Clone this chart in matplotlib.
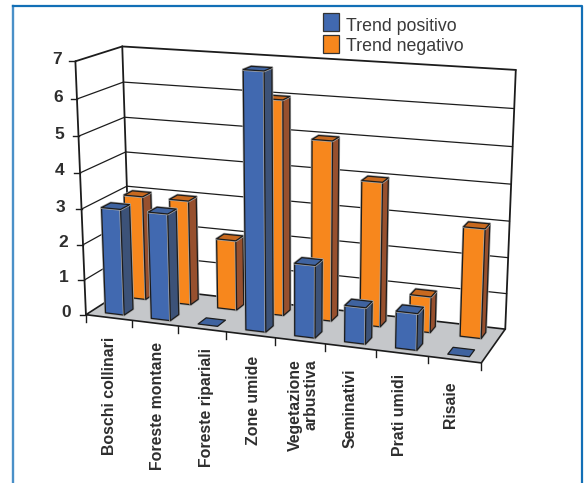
import matplotlib
matplotlib.use('Agg')
import matplotlib.pyplot as plt
import matplotlib.patheffects as pe
from matplotlib.patches import Polygon
import numpy as np

categories = ['Boschi collinari', 'Foreste montane', 'Foreste ripariali', 'Zone umide',
              'Vegetazione\narbustiva', 'Seminativi', 'Prati umidi', 'Risaie']
trend_positivo = [3, 3, 0, 7, 2, 1, 1, 0]
trend_negativo = [3, 3, 2, 6, 5, 4, 1, 3]
y_ticks = [0, 1, 2, 3, 4, 5, 6, 7]

# pixel positions of the labels drawn around the box
cat_label_x = [109, 157.5, 206, 254, 303, 350.5, 400, 450]
cat_label_top = [337, 342, 348, 356, 359, 368, 374, 382]
val_label_x = [66, 64, 63, 60, 60, 59, 58, 57]

BLUE = ('#4169b0', '#3c5278', '#3f63a0')
ORANGE = ('#f7871d', '#97502e', '#c8691f')
FLOOR = '#c5c7ca'
DARK = '#1c1c1c'
TEXT = '#2e2e2e'

W, H = 587, 483
n_cat = len(categories)

# corners of the box: (u across, d into the page, z value) -> pixel
corners = [((0, 0, 0), (86, 313)), ((0, 0, 7), (75, 62)), ((0, 1, 7), (122.7, 45.7)),
           ((0, 1, 0), (130, 288)), ((1, 1, 7), (515.7, 70)), ((1, 1, 0), (505, 328)),
           ((1, 0, 0), (481.7, 364))]


def fit_camera(pairs):
    rows = []
    for (u, d, z), (px, py) in pairs:
        p = [u, d, z, 1]
        rows.append(p + [0, 0, 0, 0] + [-px * c for c in p])
        rows.append([0, 0, 0, 0] + p + [-py * c for c in p])
    return np.linalg.svd(np.array(rows, dtype=float))[2][-1].reshape(3, 4)


CAM = fit_camera(corners)


def proj(u, d, z):
    q = CAM @ np.array([u, d, z, 1.0])
    return q[0] / q[2], q[1] / q[2]


def face(ax, pts, color, lw=0.9, edge=DARK, zorder=2, halo=False):
    patch = Polygon([proj(*p) for p in pts], closed=True, facecolor=color,
                    edgecolor=edge, linewidth=lw, joinstyle='round', zorder=zorder)
    if halo:
        patch.set_path_effects([pe.Stroke(linewidth=1.9, foreground='#a9a9a9'), pe.Normal()])
    ax.add_patch(patch)


def line(ax, a, b, lw=1.0, color=DARK, zorder=1):
    pa, pb = proj(*a), proj(*b)
    ax.plot([pa[0], pb[0]], [pa[1], pb[1]], color=color, lw=lw, zorder=zorder,
            solid_capstyle='round')


def bar(ax, i, val, d0, d1, colors, shift=0.0):
    u0 = (i + 0.28 + shift) / n_cat
    u1 = (i + 0.69 + shift) / n_cat
    front, side, top = colors
    if val > 0:
        face(ax, [(u0, d0, 0), (u1, d0, 0), (u1, d0, val), (u0, d0, val)], front, halo=True)
        face(ax, [(u1, d0, 0), (u1, d1, 0), (u1, d1, val), (u1, d0, val)], side, halo=True)
    face(ax, [(u0, d0, val), (u1, d0, val), (u1, d1, val), (u0, d1, val)], top, halo=val > 0)


fig = plt.figure(figsize=(W / 100, H / 100), dpi=100, facecolor='white')
ax = fig.add_axes([0, 0, 1, 1])
ax.set_xlim(0, W)
ax.set_ylim(H, 0)
ax.axis('off')
plt.rcParams['font.family'] = ['Liberation Sans', 'DejaVu Sans']

# outer frame, open at the bottom
ax.plot([13, 13], [H + 2, 6], color='#4a90c8', lw=1.7, zorder=0)
ax.plot([13, 582, 582], [6, 6, H + 2], color='#126fb6', lw=1.6, zorder=0)

# walls and gridlines
for v in y_ticks[1:]:
    line(ax, (0, 0, v), (0, 1, v), lw=0.9 if v < 7 else 1.3)
    line(ax, (0, 1, v), (1, 1, v), lw=0.9 if v < 7 else 1.3)
line(ax, (0, 0, 0), (0, 0, 7), lw=1.3)
line(ax, (0, 1, 0), (0, 1, 7), lw=1.3)
line(ax, (1, 1, 0), (1, 1, 7), lw=1.3)

# floor
face(ax, [(0, 0, 0), (1, 0, 0), (1, 1, 0), (0, 1, 0)], FLOOR, lw=1.2, zorder=1.5)

# tick marks
for v in y_ticks:
    px, py = proj(0, 0, v)
    ax.plot([px - 6, px], [py, py], color=DARK, lw=1.0, zorder=1)
for i in range(n_cat + 1):
    px, py = proj(i / n_cat, 0, 0)
    ax.plot([px, px], [py, py + 7], color=DARK, lw=1.0, zorder=1)

# back row first, then the front row over it, left to right
for i in range(n_cat):
    bar(ax, i, trend_negativo[i], 0.65, 0.84, ORANGE)
for i in range(n_cat):
    bar(ax, i, trend_positivo[i], 0.12, 0.32, BLUE, shift=0.03)

for v, x in zip(y_ticks, val_label_x):
    ax.text(x, proj(0, 0, v)[1] - 2, str(v), fontsize=12.5, fontweight='bold', color=TEXT,
            ha='center', va='center')

for c, x, top in zip(categories, cat_label_x, cat_label_top):
    ax.text(x, top, c, rotation=90, fontsize=11.4, fontweight='bold', color=TEXT,
            ha='center', va='top', ma='right', linespacing=1.0)

# legend
for y0, base, color, label in [(13, 30.7, BLUE[0], 'Trend positivo'),
                               (34.5, 50.7, ORANGE[0], 'Trend negativo')]:
    ax.add_patch(Polygon([(322.5, y0), (338.5, y0), (338.5, y0 + 18), (322.5, y0 + 18)],
                         closed=True, facecolor=color, edgecolor='#333333', lw=0.9, zorder=3))
    ax.text(346, base, label, fontsize=12.8, color='#3a3a3a', ha='left', va='baseline')

fig.savefig('out.png', dpi=100)
